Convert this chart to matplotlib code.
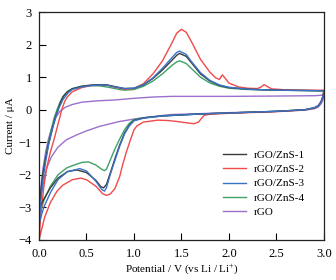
import matplotlib
matplotlib.use('Agg')
import matplotlib.pyplot as plt


# cyclic voltammetry data
# each sample: anodic sweep (0 -> 3 V) then cathodic sweep (3 -> 0 V)
LABELS = ['rGO/ZnS-1', 'rGO/ZnS-2', 'rGO/ZnS-3', 'rGO/ZnS-4', 'rGO']

# rGO/ZnS-1
zns1_up_x = [0, 0.02, 0.04, 0.07, 0.1, 0.14, 0.17, 0.2, 0.23, 0.26, 0.3, 0.35, 0.45, 0.55, 0.65, 0.72, 0.8, 0.9, 1.0,
             1.1, 1.2, 1.3, 1.4, 1.45, 1.48, 1.55, 1.6, 1.7, 1.8, 1.9, 2.0, 2.2, 2.5, 2.8, 3.0]
zns1_up_y = [-3.05, -2.5, -2.0, -1.5, -1.05, -0.6, -0.25, 0.0, 0.25, 0.42, 0.55, 0.64, 0.72, 0.76, 0.77, 0.76, 0.71, 0.65, 0.66,
             0.76, 0.96, 1.22, 1.52, 1.67, 1.73, 1.64, 1.46, 1.1, 0.88, 0.75, 0.68, 0.63, 0.6, 0.59, 0.58]
zns1_down_x = [3.0, 2.99, 2.97, 2.94, 2.9, 2.8, 2.5, 2.0, 1.7, 1.3, 1.1, 1.0, 0.95, 0.9, 0.85, 0.8, 0.75, 0.71, 0.68,
               0.65, 0.6, 0.5, 0.4, 0.3, 0.2, 0.12, 0.05, 0.0]
zns1_down_y = [0.58, 0.4, 0.24, 0.12, 0.06, 0.0, -0.05, -0.1, -0.13, -0.19, -0.25, -0.33, -0.48, -0.72, -1.08, -1.5, -1.95, -2.3, -2.4,
               -2.36, -2.17, -1.93, -1.85, -1.9, -2.1, -2.4, -2.75, -3.05]

# rGO/ZnS-2
zns2_up_x = [0, 0.02, 0.05, 0.08, 0.12, 0.16, 0.2, 0.24, 0.27, 0.3, 0.35, 0.45, 0.55, 0.65, 0.72, 0.8, 0.9, 1.0,
             1.1, 1.2, 1.3, 1.4, 1.45, 1.5, 1.55, 1.6, 1.7, 1.8, 1.86, 1.9, 1.93, 1.96, 2.0, 2.1, 2.2, 2.3, 2.34, 2.37,
             2.4, 2.45, 2.6, 2.8, 3.0]
zns2_up_y = [-4.0, -3.2, -2.4, -1.8, -1.3, -0.9, -0.45, 0.0, 0.25, 0.4, 0.55, 0.68, 0.74, 0.76, 0.75, 0.69, 0.63, 0.65,
             0.8, 1.1, 1.5, 2.05, 2.35, 2.47, 2.38, 2.12, 1.55, 1.15, 0.98, 0.93, 1.07, 0.97, 0.82, 0.7, 0.66, 0.65, 0.7, 0.77,
             0.72, 0.64, 0.61, 0.6, 0.6]
zns2_down_x = [3.0, 2.99, 2.97, 2.94, 2.9, 2.8, 2.5, 2.0, 1.8, 1.74, 1.71, 1.68, 1.63, 1.55, 1.45, 1.35, 1.25, 1.1, 1.03, 1.0,
               0.96, 0.92, 0.88, 0.85, 0.8, 0.75, 0.71, 0.67, 0.6, 0.5, 0.44, 0.35, 0.25, 0.19, 0.12, 0.06, 0.0]
zns2_down_y = [0.6, 0.42, 0.25, 0.12, 0.05, -0.01, -0.06, -0.11, -0.14, -0.17, -0.27, -0.38, -0.43, -0.4, -0.36, -0.33, -0.32, -0.38, -0.5, -0.62,
               -0.95, -1.3, -1.7, -2.05, -2.42, -2.59, -2.63, -2.58, -2.35, -2.15, -2.1, -2.15, -2.32, -2.5, -2.85, -3.3, -4.0]

# rGO/ZnS-3
zns3_up_x = [0, 0.02, 0.04, 0.07, 0.1, 0.14, 0.18, 0.21, 0.25, 0.3, 0.35, 0.45, 0.55, 0.65, 0.72, 0.8, 0.9, 1.0,
             1.1, 1.2, 1.3, 1.4, 1.45, 1.48, 1.55, 1.6, 1.7, 1.8, 1.9, 2.0, 2.2, 2.5, 2.8, 3.0]
zns3_up_y = [-3.5, -2.8, -2.2, -1.6, -1.1, -0.6, -0.2, 0.05, 0.3, 0.5, 0.62, 0.7, 0.74, 0.76, 0.75, 0.7, 0.65, 0.66,
             0.77, 0.98, 1.27, 1.6, 1.76, 1.8, 1.7, 1.5, 1.14, 0.9, 0.76, 0.69, 0.63, 0.6, 0.59, 0.58]
zns3_down_x = [3.0, 2.99, 2.97, 2.94, 2.9, 2.8, 2.5, 2.0, 1.7, 1.3, 1.1, 1.0, 0.95, 0.9, 0.85, 0.8, 0.75, 0.71, 0.69,
               0.66, 0.6, 0.5, 0.43, 0.3, 0.2, 0.12, 0.05, 0.0]
zns3_down_y = [0.58, 0.4, 0.24, 0.12, 0.06, 0.0, -0.05, -0.1, -0.13, -0.19, -0.26, -0.34, -0.5, -0.75, -1.12, -1.55, -2.0, -2.4, -2.5,
               -2.45, -2.2, -1.88, -1.81, -1.9, -2.15, -2.55, -3.0, -3.5]

# rGO/ZnS-4
zns4_up_x = [0, 0.02, 0.04, 0.07, 0.1, 0.13, 0.16, 0.19, 0.22, 0.25, 0.3, 0.35, 0.45, 0.55, 0.65, 0.75, 0.85, 0.9, 1.0,
             1.1, 1.2, 1.3, 1.4, 1.45, 1.48, 1.55, 1.6, 1.7, 1.8, 1.9, 2.0, 2.2, 2.5, 2.8, 3.0]
zns4_up_y = [-3.3, -2.6, -2.0, -1.45, -1.0, -0.6, -0.25, 0.0, 0.22, 0.4, 0.56, 0.65, 0.72, 0.74, 0.73, 0.68, 0.62, 0.6, 0.62,
             0.72, 0.88, 1.1, 1.36, 1.47, 1.5, 1.42, 1.28, 1.0, 0.82, 0.72, 0.66, 0.62, 0.6, 0.59, 0.58]
zns4_down_x = [3.0, 2.99, 2.97, 2.94, 2.9, 2.8, 2.5, 2.0, 1.7, 1.3, 1.1, 1.0, 0.95, 0.9, 0.85, 0.8, 0.75, 0.71, 0.69,
               0.66, 0.6, 0.52, 0.45, 0.35, 0.29, 0.2, 0.12, 0.05, 0.0]
zns4_down_y = [0.58, 0.4, 0.24, 0.12, 0.06, 0.0, -0.05, -0.1, -0.13, -0.19, -0.25, -0.3, -0.42, -0.62, -0.9, -1.2, -1.55, -1.83, -1.87,
               -1.83, -1.7, -1.6, -1.62, -1.72, -1.79, -2.0, -2.35, -2.8, -3.3]

# rGO
rgo_up_x = [0, 0.02, 0.04, 0.07, 0.1, 0.14, 0.18, 0.22, 0.28, 0.35, 0.45, 0.6, 0.8, 1.0, 1.2, 1.4, 1.7, 2.0, 2.5, 2.9, 3.0]
rgo_up_y = [-3.0, -2.4, -1.85, -1.3, -0.9, -0.5, -0.22, -0.05, 0.08, 0.16, 0.23, 0.27, 0.3, 0.35, 0.39, 0.41, 0.41, 0.41, 0.42, 0.43, 0.45]
rgo_down_x = [3.0, 2.99, 2.97, 2.94, 2.9, 2.8, 2.5, 2.0, 1.7, 1.38, 1.06, 0.85, 0.64, 0.5, 0.4, 0.29, 0.2, 0.13, 0.08,
              0.06, 0.03, 0.0]
rgo_down_y = [0.45, 0.3, 0.18, 0.08, 0.03, -0.01, -0.05, -0.09, -0.12, -0.15, -0.26, -0.36, -0.51, -0.65, -0.77, -0.92, -1.15, -1.45, -1.8,
              -2.05, -2.5, -3.0]

COLORS = ['#3a3a3a', '#f04a4a', '#3a72c6', '#3da268', '#9b70cc']


def main():
    plt.rcParams['font.family'] = ['Liberation Serif', 'DejaVu Serif']
    plt.rcParams['mathtext.fontset'] = 'custom'
    plt.rcParams['mathtext.rm'] = 'Liberation Serif'

    fig = plt.figure(figsize=(3.36, 2.8), dpi=100)
    ax = fig.add_axes([0.116, 0.143, 0.848, 0.814])

    curves = [
        (zns1_up_x + zns1_down_x, zns1_up_y + zns1_down_y),
        (zns2_up_x + zns2_down_x, zns2_up_y + zns2_down_y),
        (zns3_up_x + zns3_down_x, zns3_up_y + zns3_down_y),
        (zns4_up_x + zns4_down_x, zns4_up_y + zns4_down_y),
        (rgo_up_x + rgo_down_x, rgo_up_y + rgo_down_y),
    ]
    # draw rGO first so the composites sit on top
    order = [4, 3, 1, 0, 2]
    lines = {}
    for i in order:
        x, y = curves[i]
        lines[i], = ax.plot(x, y, color=COLORS[i], lw=1.0, label=LABELS[i])

    ax.set_xlim(0, 3)
    ax.set_ylim(-4, 3)
    ax.set_xticks([0, 0.5, 1.0, 1.5, 2.0, 2.5, 3.0])
    ax.set_xticklabels(['0.0', '0.5', '1.0', '1.5', '2.0', '2.5', '3.0'])
    ax.set_yticks(range(-4, 4))
    ax.set_yticklabels(['\u22124', '\u22123', '\u22122', '\u22121', '0', '1', '2', '3'])
    ax.tick_params(direction='in', length=5, width=0.8, labelsize=9)
    ax.tick_params(axis='x', pad=6)
    ax.tick_params(axis='y', pad=5)
    for s in ax.spines.values():
        s.set_linewidth(0.9)
        s.set_color('#222222')

    ax.set_xlabel('Potential / V (vs Li / Li$^{+}$)', fontsize=8, labelpad=2)
    ax.set_ylabel('Current / \u03bcA', fontsize=8, labelpad=3)

    ax.legend([lines[i] for i in range(5)], LABELS, loc='upper left', bbox_to_anchor=(0.62, 0.43),
              frameon=False, fontsize=8, handlelength=2.0, handletextpad=0.7, labelspacing=0.42,
              borderpad=0.2)

    fig.savefig('out.png', dpi=100)


if __name__ == '__main__':
    main()
